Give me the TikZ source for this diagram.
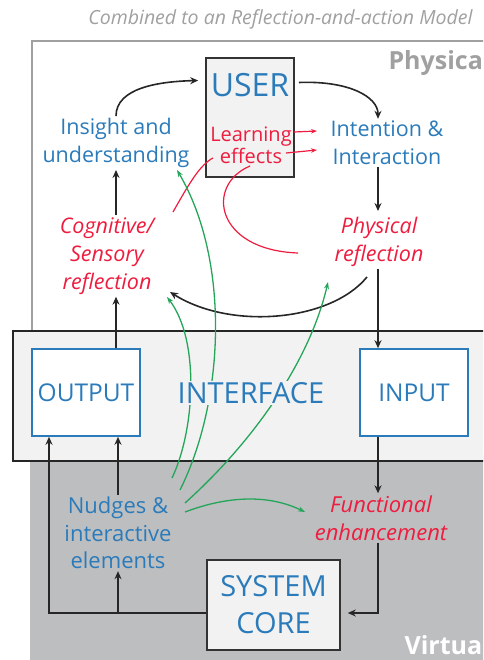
\documentclass[tikz,border=0pt]{standalone}
\usepackage{fontspec}
\setmainfont{Open Sans}
\usetikzlibrary{arrows.meta,calc}
\definecolor{tblue}{HTML}{2B7BBA}
\definecolor{tred}{HTML}{EE1C3E}
\definecolor{tgreen}{HTML}{25A55A}
\definecolor{tgray}{HTML}{A0A0A0}
\definecolor{vgray}{HTML}{BDBEC0}
\definecolor{ifill}{HTML}{F2F2F2}
\tikzset{
  bluetxt/.style={text=tblue, align=center, font=\fontsize{21.5}{28}\selectfont, inner sep=2pt},
  redtxt/.style={text=tred, align=center, font=\fontsize{21.5}{28}\selectfont\itshape, inner sep=2pt},
  blackbox/.style={draw=black!80, line width=1.6pt, fill=ifill},
  bluebox/.style={draw=tblue, line width=1.6pt, fill=white, text=tblue, font=\fontsize{24.5}{28}\selectfont},
  arr/.style={line width=1.6pt, draw=black!85, -{Stealth[length=8pt,width=7pt]}},
  redarr/.style={line width=1.2pt, draw=tred, -{Stealth[length=6pt,width=4.5pt]}},
  redln/.style={line width=1.2pt, draw=tred},
  grarr/.style={line width=1.3pt, draw=tgreen, -{Stealth[length=7pt,width=5pt]}},
}
\begin{document}
\begin{tikzpicture}[x=1pt,y=-1pt]
\useasboundingbox (0,0) rectangle (483,660);
\clip (0,0) rectangle (483,660);
% title
\node[text=tgray, font=\fontsize{19.5}{22}\selectfont\itshape, anchor=east] (title) at (476,19) {Combined to an Reflection-and-action Model};
% regions
\draw[draw=tgray, line width=2pt] (32,340) -- (32,41.5) -- (495,41.5);
\fill[fill=vgray] (30,455) rectangle (495,670);
\draw[fill=ifill, draw=black!85, line width=1.6pt] (13,331) rectangle (495,461);
\node[text=tgray, font=\fontsize{25}{28}\selectfont\bfseries, anchor=west] (phyl) at (385,63) {Physica};
\node[text=white, font=\fontsize{25}{28}\selectfont\bfseries, anchor=west] (virl) at (401,645) {Virtua};
\coordinate (rx) at (378,0);
\coordinate (lx) at (49,613);
% boxes
\node[blackbox, minimum width=88pt, minimum height=119pt] (user) at (250,117.5) {};
\node[text=tblue, font=\fontsize{32}{36}\selectfont, inner sep=0pt] (usertxt) at (250,85) {USER};
\node[text=tred, align=center, font=\fontsize{20}{22}\selectfont, inner sep=1pt] (learn) at (251,145) {Learning\\effects};
\node[bluebox, minimum width=108pt, minimum height=87pt] (output) at (86,392.5) {OUTPUT};
\node[bluebox, minimum width=108pt, minimum height=87pt] (input) at (414,392.5) {INPUT};
\node[blackbox, minimum width=133pt, minimum height=90pt, text=tblue, align=center, font=\fontsize{29}{37}\selectfont] (core) at (273.5,605) {SYSTEM\\CORE};
% text nodes
\node[bluetxt] (insight) at (116,143) {Insight and\\understanding};
\node[bluetxt] (intent) at (387,143) {Intention \&\\Interaction};
\node[redtxt] (cog) at (107,256) {Cognitive/\\Sensory\\reflection};
\node[redtxt] (phys) at (379,242) {Physical\\reflection};
\node[bluetxt, font=\fontsize{22}{27.5}\selectfont] (nudges) at (118,533) {Nudges \&\\interactive\\elements};
\node[redtxt, font=\fontsize{22}{28}\selectfont\itshape] (func) at (381,518) {Functional\\enhancement};
% black connectors
\draw[arr] (insight.north) .. controls +(0,-28) and +(-40,1) .. ([xshift=-7pt,yshift=37pt]user.west);
\draw[arr] ([xshift=4pt,yshift=35pt]user.east) .. controls +(50,-2) and +(0,-22) .. (intent.north -| rx);
\draw[arr] (intent.south -| rx) -- ([yshift=4pt]phys.north -| rx);
\draw[arr] (phys.south -| rx) -- (input.north -| rx);
\draw[arr] (input.south -| rx) -- (func.north -| rx);
\draw[arr] (func.south -| rx) |- ([xshift=7pt]core.east |- lx);
\draw[arr] (core.west |- lx) -- (lx) -- (lx |- output.south);
\draw[arr] (nudges.south |- lx) -- (nudges.south);
\draw[arr] (nudges.north) -- (nudges.north |- output.south);
\draw[arr] (output.north -| insight) -- (cog.south -| insight);
\draw[arr] (cog.north -| insight) -- (insight.south);
\draw[arr] ($(phys.center)+(-12,35)$) .. controls (330,322) and (230,330) .. ($(cog.center)+(63,36)$);
% red connectors
\draw[redln] ($(cog.center)+(66,-44)$) .. controls (190,182) and (200,165) .. ($(learn.center)+(-38,13)$);
\draw[redln] ($(phys.center)+(-81,11)$) .. controls (215,250) and (205,185) .. ($(learn.center)+(-1,21)$);
\draw[redarr] ($(learn.center)+(43,-13)$) -- ($(learn.center)+(66,-14)$);
\draw[redarr] ($(learn.center)+(35,8)$) -- ($(learn.center)+(66,5)$);
% green connectors
\draw[grarr] ($(nudges.center)+(54,-55)$) .. controls (195,430) and (200,340) .. ($(cog.center)+(60,41)$);
\draw[grarr] ($(nudges.center)+(62,-43)$) .. controls (225,400) and (230,260) .. ($(insight.center)+(61,27)$);
\draw[grarr] ($(nudges.center)+(67,-30)$) .. controls (255,440) and (310,360) .. ($(phys.center)+(-51,40)$);
\draw[grarr] ($(nudges.center)+(67,-21)$) .. controls (230,495) and (270,495) .. ($(func.center)+(-76,-6)$);
% interface label over green lines
\node[text=tblue, fill=ifill, inner sep=1pt, font=\fontsize{29}{32}\selectfont] (iface) at (251,393) {INTERFACE};
\end{tikzpicture}
\end{document}
